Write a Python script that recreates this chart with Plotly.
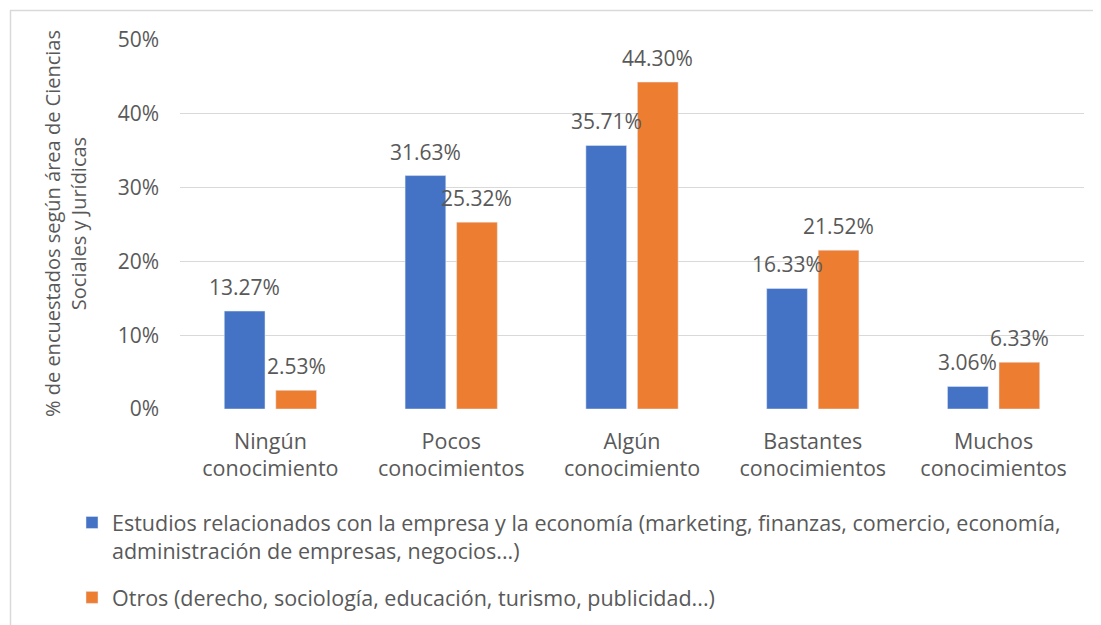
import plotly.graph_objects as go

categories = ["Ningún<br>conocimiento", "Pocos<br>conocimientos", "Algún<br>conocimiento",
              "Bastantes<br>conocimientos", "Muchos<br>conocimientos"]
empresa = [13.27, 31.63, 35.71, 16.33, 3.06]
otros = [2.53, 25.32, 44.30, 21.52, 6.33]
name_empresa = ("Estudios relacionados con la empresa y la economía (marketing, finanzas, comercio, economía,"
                "<br>administración de empresas, negocios...)")
name_otros = "Otros (derecho, sociología, educación, turismo, publicidad...)"
y_ticks = [0, 10, 20, 30, 40, 50]
y_ticktext = ["0%", "10%", "20%", "30%", "40%", "50%"]
y_title = "% de encuestados según área de Ciencias<br>Sociales y Jurídicas"

BLUE = "#4472C4"
ORANGE = "#ED7D31"
TXT = "#595959"
FONT = "Open Sans"

W, H = 1101, 625
OFF = 8  # page body margin offset
# target page pixels of plot area: x 180..1084, y 40..409
ML = 180 - OFF
MT = 40 - OFF
MR = W - (1084 - OFF)
MB = H - (409 - OFF)
PW = W - ML - MR
PH = H - MT - MB

fig = go.Figure()
fig.add_trace(go.Bar(x=categories, y=empresa, name=name_empresa, marker_color=BLUE,
                     legendgroup="a"))
fig.add_trace(go.Bar(x=categories, y=otros, name=name_otros, marker_color=ORANGE,
                     legendgroup="b"))

annotations = []
for vals, shift in ((empresa, -25.75), (otros, 25.75)):
    for c, v in zip(categories, vals):
        annotations.append(dict(x=c, y=v, xref="x", yref="y", text=f"{v:.2f}%",
                                showarrow=False, xshift=shift, yshift=24,
                                yanchor="middle", xanchor="center",
                                font=dict(family=FONT, size=21, color=TXT)))

def px_x(p):
    # page pixel -> paper
    return (p - OFF - ML) / PW

def px_y(p):
    return (H - MB - (p - OFF)) / PH

# y-axis title
annotations.append(dict(x=px_x(65), y=px_y(224), xref="paper", yref="paper",
                        text=y_title, textangle=-90, showarrow=False,
                        xanchor="center", yanchor="middle",
                        font=dict(family=FONT, size=20, color=TXT)))
# clipped title fragment at the top
annotations.append(dict(x=px_x(621), y=px_y(5), xref="paper", yref="paper",
                        text="<b>y</b>", showarrow=False, xanchor="center", yanchor="bottom",
                        font=dict(family=FONT, size=32, color="#000000")))

shapes = [
    dict(type="line", xref="paper", yref="paper", x0=px_x(10), x1=px_x(W + 20),
         y0=px_y(10.5), y1=px_y(10.5), line=dict(color="#D9D9D9", width=1.5)),
    dict(type="line", xref="paper", yref="paper", x0=px_x(10.5), x1=px_x(10.5),
         y0=px_y(10), y1=px_y(H + 20), line=dict(color="#D9D9D9", width=1.5)),
]

fig.update_layout(
    width=W, height=H,
    margin=dict(l=ML, r=MR, t=MT, b=MB, autoexpand=False),
    paper_bgcolor="white", plot_bgcolor="white",
    font=dict(family=FONT, size=21, color=TXT),
    barmode="group", bargap=0.43, bargroupgap=0.21,
    xaxis=dict(showgrid=False, showline=False, zeroline=False, ticks="",
               ticklabelstandoff=17, tickfont=dict(size=21.5, color=TXT)),
    yaxis=dict(range=[0, 50], tickvals=y_ticks, ticktext=y_ticktext, showgrid=True,
               gridcolor="#D9D9D9", gridwidth=1.3, zeroline=False, showline=False,
               ticks="", ticklabelstandoff=20, tickfont=dict(size=21, color=TXT)),
    showlegend=True,
    legend=dict(x=px_x(72), y=px_y(502), xanchor="left", yanchor="top",
                orientation="v", valign="top", tracegroupgap=16,
                font=dict(family=FONT, size=21.5, color=TXT), bgcolor="rgba(0,0,0,0)"),
    annotations=annotations,
    shapes=shapes,
)

fig.write_html("out.html")
